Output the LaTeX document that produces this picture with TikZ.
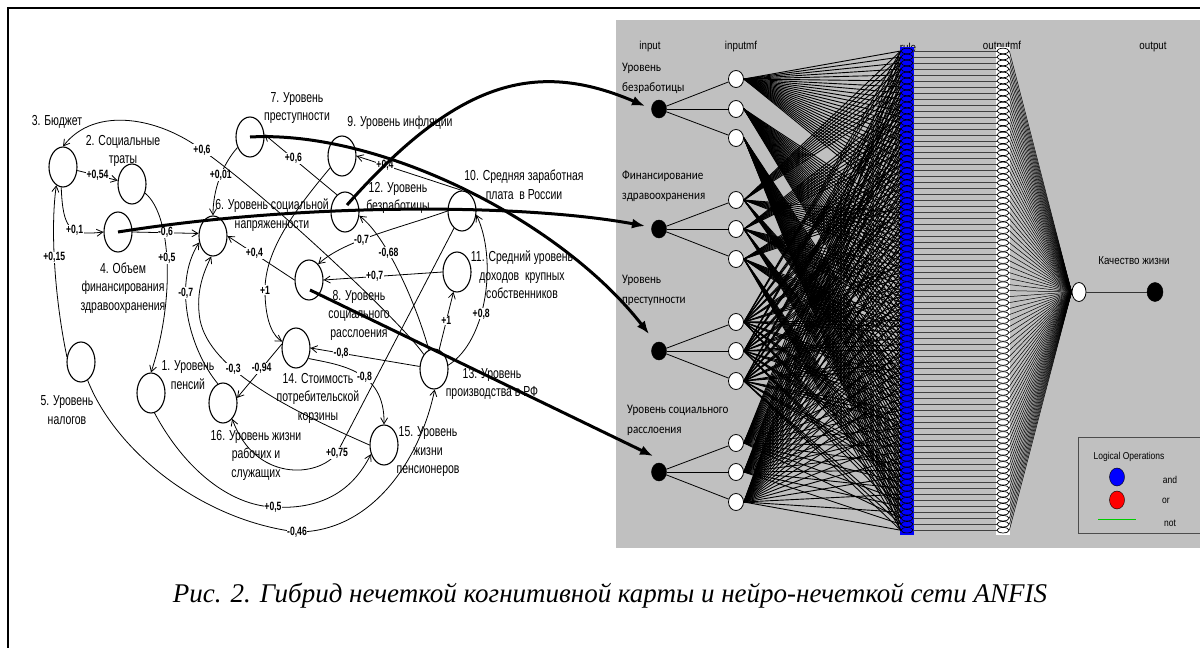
\documentclass[tikz,border=0pt]{standalone}
\usepackage{fontspec}
\setmainfont{Liberation Serif}
\newfontfamily\mapfont[FakeStretch=0.72]{Liberation Sans}
\newfontfamily\anfont[FakeStretch=0.85]{Carlito}
\newfontfamily\hdfont[FakeStretch=0.85]{Liberation Sans}
\usetikzlibrary{shapes.geometric,arrows.meta,calc}
\definecolor{panelgray}{RGB}{192,192,192}
\begin{document}
\begin{tikzpicture}[x=1pt,y=-1pt,
  cnode/.style={draw, ellipse, line width=1.1pt, minimum width=28pt, minimum height=40pt, inner sep=0pt, fill=white},
  ntext/.style={font=\mapfont\fontsize{14.5}{18.5}\selectfont, align=center, inner sep=0pt},
  elab/.style={font=\mapfont\bfseries\fontsize{12}{13}\selectfont, fill=white, inner sep=0.5pt},
  arr/.style={line width=0.8pt, -{Straight Barb[length=6pt,width=7pt]}},
  bigarr/.style={line width=3pt, -{Latex[length=13pt,width=10pt]}},
  hdr/.style={font=\hdfont\fontsize{11.5}{13}\selectfont, inner sep=0pt},
  inlab/.style={font=\anfont\fontsize{13}{20}\selectfont, align=left, anchor=west, inner sep=0pt},
  inp/.style={draw, ellipse, fill=black, minimum width=15pt, minimum height=18pt, inner sep=0pt},
  mf/.style={draw, ellipse, fill=white, line width=0.8pt, minimum width=15pt, minimum height=17pt, inner sep=0pt},
  rulenode/.style={draw, ellipse, fill=blue, line width=0.6pt, minimum width=12pt, minimum height=5.5pt, inner sep=0pt},
  omfnode/.style={draw, ellipse, fill=white, line width=0.7pt, minimum width=12pt, minimum height=5.5pt, inner sep=0pt},
  mfline/.style={line width=0.9pt},
  rline/.style={line width=0.7pt, black!75},
  oline/.style={line width=0.5pt},
  inline/.style={line width=0.8pt}
]
\useasboundingbox (0,0) rectangle (1200,648);
\fill[white] (0,0) rectangle (1200,648);
\draw[line width=1.2pt] (1200,8) -- (8,8) -- (8,648);

% ---------------- ANFIS panel ----------------
\fill[panelgray] (616,20) rectangle (1200,548);
\node[hdr] (hin) at (650,47) {input};
\node[hdr] (hmf) at (741,47) {inputmf};
\node[hdr] (hru) at (908,47) {rule};
\node[hdr] (hom) at (1002,47) {outputmf};
\node[hdr] (hout) at (1153,47) {output};

\node[inlab] (il1) at (622,78) {Уровень\\безработицы};
\node[inlab] (il2) at (622,186) {Финансирование\\здравоохранения};
\node[inlab] (il3) at (622,290) {Уровень\\преступности};
\node[inlab] (il4) at (627,420) {Уровень социального\\расслоения};

\node[inp] (i1) at (659,109) {};
\node[inp] (i2) at (659,229) {};
\node[inp] (i3) at (659,351) {};
\node[inp] (i4) at (659,472) {};

\node[mf] (m10) at (736,79) {};
\node[mf] (m11) at (736,109) {};
\node[mf] (m12) at (736,138) {};
\node[mf] (m20) at (736,200) {};
\node[mf] (m21) at (736,229) {};
\node[mf] (m22) at (736,259) {};
\node[mf] (m30) at (736,322) {};
\node[mf] (m31) at (736,351) {};
\node[mf] (m32) at (736,381) {};
\node[mf] (m40) at (736,443) {};
\node[mf] (m41) at (736,472) {};
\node[mf] (m42) at (736,502) {};

\foreach \k in {1,2,3,4}{
  \foreach \j in {0,1,2}{
    \draw[inline] (i\k) -- (m\k\j);
  }
}

\fill[blue] (900,47) rectangle (914,535);
\fill[white] (996,47) rectangle (1010,535);
\node[draw, ellipse, fill=white, line width=0.8pt, minimum width=14pt, minimum height=19pt, inner sep=0pt] (out) at (1079,292) {};
\node[draw, ellipse, fill=black, minimum width=16pt, minimum height=19pt, inner sep=0pt] (res) at (1155,292) {};
\draw[line width=0.8pt, black!80] (out) -- (res);
\node[hdr] (qlab) at (1134,261) {Качество жизни};

\foreach \r in {0,...,80}{
  \pgfmathsetmacro\ry{51+\r*5.99}
  \node[rulenode] (r\r) at (907,\ry) {};
  \node[omfnode] (o\r) at (1003,\ry) {};
}
\foreach \r in {0,...,80}{
  \pgfmathtruncatemacro\ma{int(\r/27)}
  \pgfmathtruncatemacro\mb{mod(int(\r/9),3)}
  \pgfmathtruncatemacro\mc{mod(int(\r/3),3)}
  \pgfmathtruncatemacro\md{mod(\r,3)}
  \draw[mfline] (m1\ma.east) -- (r\r.west);
  \draw[mfline] (m2\mb.east) -- (r\r.west);
  \draw[mfline] (m3\mc.east) -- (r\r.west);
  \draw[mfline] (m4\md.east) -- (r\r.west);
  \draw[rline] (r\r.east) -- (o\r.west);
  \draw[oline] (o\r.east) -- (out.west);
}

% legend
\draw[line width=0.8pt, black!70] (1078,437) rectangle (1206,533);
\node[font=\hdfont\fontsize{10}{12}\selectfont, inner sep=0pt] (lgt) at (1129,457) {Logical Operations};
\node[draw, ellipse, fill=blue, minimum width=15pt, minimum height=18pt, inner sep=0pt] (land) at (1117,477) {};
\node[draw, ellipse, fill=red, minimum width=15pt, minimum height=18pt, inner sep=0pt] (lor) at (1117,500) {};
\coordinate (ng1) at (1098,519);
\coordinate (ng2) at (1136,519);
\draw[green!80!black, line width=0.8pt] (ng1) -- (ng2);
\node[font=\hdfont\fontsize{10}{12}\selectfont, inner sep=0pt] (tand) at (1170,480) {and};
\node[font=\hdfont\fontsize{10}{12}\selectfont, inner sep=0pt] (tor) at (1166,501) {or};
\node[font=\hdfont\fontsize{10}{12}\selectfont, inner sep=0pt] (tnot) at (1170,523) {not};

% ---------------- cognitive map ----------------
\node[cnode] (n1) at (151,393) {};
\node[cnode] (n2) at (132,184) {};
\node[cnode] (n3) at (63,167) {};
\node[cnode] (n4) at (118,232) {};
\node[cnode] (n5) at (81,362) {};
\node[cnode] (n6) at (213,236) {};
\node[cnode] (n7) at (250,137) {};
\node[cnode] (n8) at (309,280) {};
\node[cnode] (n9) at (342,156) {};
\node[cnode] (n10) at (462,211) {};
\node[cnode] (n11) at (457,272) {};
\node[cnode] (n12) at (345,212) {};
\node[cnode] (n13) at (434,369) {};
\node[cnode] (n14) at (296,348) {};
\node[cnode] (n15) at (384,445) {};
\node[cnode] (n16) at (223,403) {};

\node[ntext] (lab1) at (188,375) {1. Уровень\\пенсий};
\node[ntext] (lab2) at (123,151) {2. Социальные\\траты};
\node[ntext] (lab3) at (57,122) {3. Бюджет};
\node[ntext] (lab4) at (123,288) {4. Объем\\финансирования\\здравоохранения};
\node[ntext] (lab5) at (67,410) {5. Уровень\\налогов};
\node[ntext] (lab6) at (272,215) {6. Уровень социальной\\напряженности};
\node[ntext] (lab7) at (297,108) {7. Уровень\\преступности};
\node[ntext] (lab8) at (359,315) {8. Уровень\\социального\\расслоения};
\node[ntext] (lab9) at (400,123) {9. Уровень инфляции};
\node[ntext] (lab10) at (524,185) {10. Средняя заработная\\плата\ \ в России};
\node[ntext] (lab11) at (522,275) {11. Средний уровень\\доходов\ \ крупных\\собственников};
\node[ntext] (lab12) at (398,198) {12. Уровень\\безработицы};
\node[ntext] (lab13) at (492,384) {13. Уровень\\производства в РФ};
\node[ntext] (lab14) at (318,398) {14. Стоимость\\потребительской\\корзины};
\node[ntext] (lab15) at (428,452) {15. Уровень\\жизни\\пенсионеров};
\node[ntext] (lab16) at (256,455) {16. Уровень жизни\\рабочих и\\служащих};

\draw[arr] (n3) -- node[elab,pos=0.5]{+0,54} (n2);
\draw[arr] (n3.-95) .. controls (63,230) and (70,236) .. node[elab,pos=0.6]{+0,1} (n4.west);
\draw[arr] (n5.160) .. controls (55,300) and (50,230) .. node[elab,pos=0.55]{+0,15} (n3.-110);
\draw[arr] (n2.-35) .. controls (172,215) and (175,300) .. node[elab,pos=0.47]{+0,5} (n1.north);
\draw[arr] (n4.east) -- node[elab]{-0,6} (n6.170);
\draw[arr] (n7.-140) .. controls (222,165) and (213,190) .. node[elab,pos=0.45]{+0,01} (n6.north);
\draw[arr] (n13.125) .. controls (400,320) and (260,190) .. (202,150) node[elab]{+0,6} .. controls (160,118) and (95,105) .. (n3.north);
\draw[arr] (n12.115) -- node[elab,pos=0.6]{+0,6} (n7.10);
\draw[arr] (n10.north) -- node[elab,pos=0.73]{+0,4} (n9.east);
\draw[arr] (n10.west) .. controls (400,228) and (345,240) .. node[elab,pos=0.6]{-0,7} (n8.60);
\draw[arr] (n11.west) -- node[elab,pos=0.57]{+0,7} (n8.east);
\draw[arr] (n13.75) -- node[elab]{+1} (n11.-100);
\draw[arr] (n13.15) .. controls (488,340) and (497,258) .. node[elab,pos=0.4]{+0,8} (n10.-15);
\draw[arr] (n13.170) -- node[elab,pos=0.72]{-0,8} (n14.east);
\draw[arr] (n14.-40) .. controls (340,365) and (385,370) .. node[elab,pos=0.57]{-0,8} (n15.north);
\draw[arr] (n14.165) -- node[elab,pos=0.45]{-0,94} (n16.20);
\draw[arr] (n8.west) -- node[elab,pos=0.6]{+0,4} (n6.east);
\draw[arr] (n9.-135) .. controls (295,210) and (265,250) .. (265,290) node[elab]{+1} .. controls (265,325) and (275,337) .. (n14.155);
\draw[arr] (n16.105) .. controls (190,350) and (172,285) .. node[elab,pos=0.65]{-0,7} (n6.205);
\draw[arr] (n15.west) .. controls (290,410) and (210,370) .. node[elab,pos=0.65]{-0,3} (200,320) .. controls (195,290) and (205,270) .. (n6.-95);
\draw[arr] (n10.-115) -- (337,453) node[elab]{+0,75} .. controls (318,478) and (255,482) .. (n16.-60);
\draw[arr] (n1.-80) .. controls (185,470) and (230,505) .. (273,507) node[elab]{+0,5} .. controls (320,510) and (352,492) .. (n15.-145);
\draw[arr] (n5.-70) .. controls (115,450) and (200,520) .. (297,532) node[elab]{-0,46} .. controls (372,532) and (420,460) .. (n13.-88);
\draw[arr] (n13.105) .. controls (415,300) and (385,235) .. node[elab,pos=0.63]{-0,68} (n12.-15);

% thick links
\coordinate (t1) at (645,106);
\coordinate (t2) at (645,226);
\coordinate (t3) at (649,334);
\coordinate (t4) at (653,456);
\draw[bigarr] ($(n12.center)+(2,-7)$) .. controls (457,81) and (535,59) .. (t1);
\draw[bigarr] (n4.center) .. controls (300,203) and (520,203) .. (t2);
\draw[bigarr] (n7.center) .. controls (380,130) and (560,220) .. (t3);
\draw[bigarr] ($(n8.center)+(1,10)$) -- (t4);

\node[font=\itshape\fontsize{27}{30}\selectfont, inner sep=0pt] (cap) at (610,596) {Рис. 2. Гибрид нечеткой когнитивной карты и нейро-нечеткой сети ANFIS};
\end{tikzpicture}
\end{document}
